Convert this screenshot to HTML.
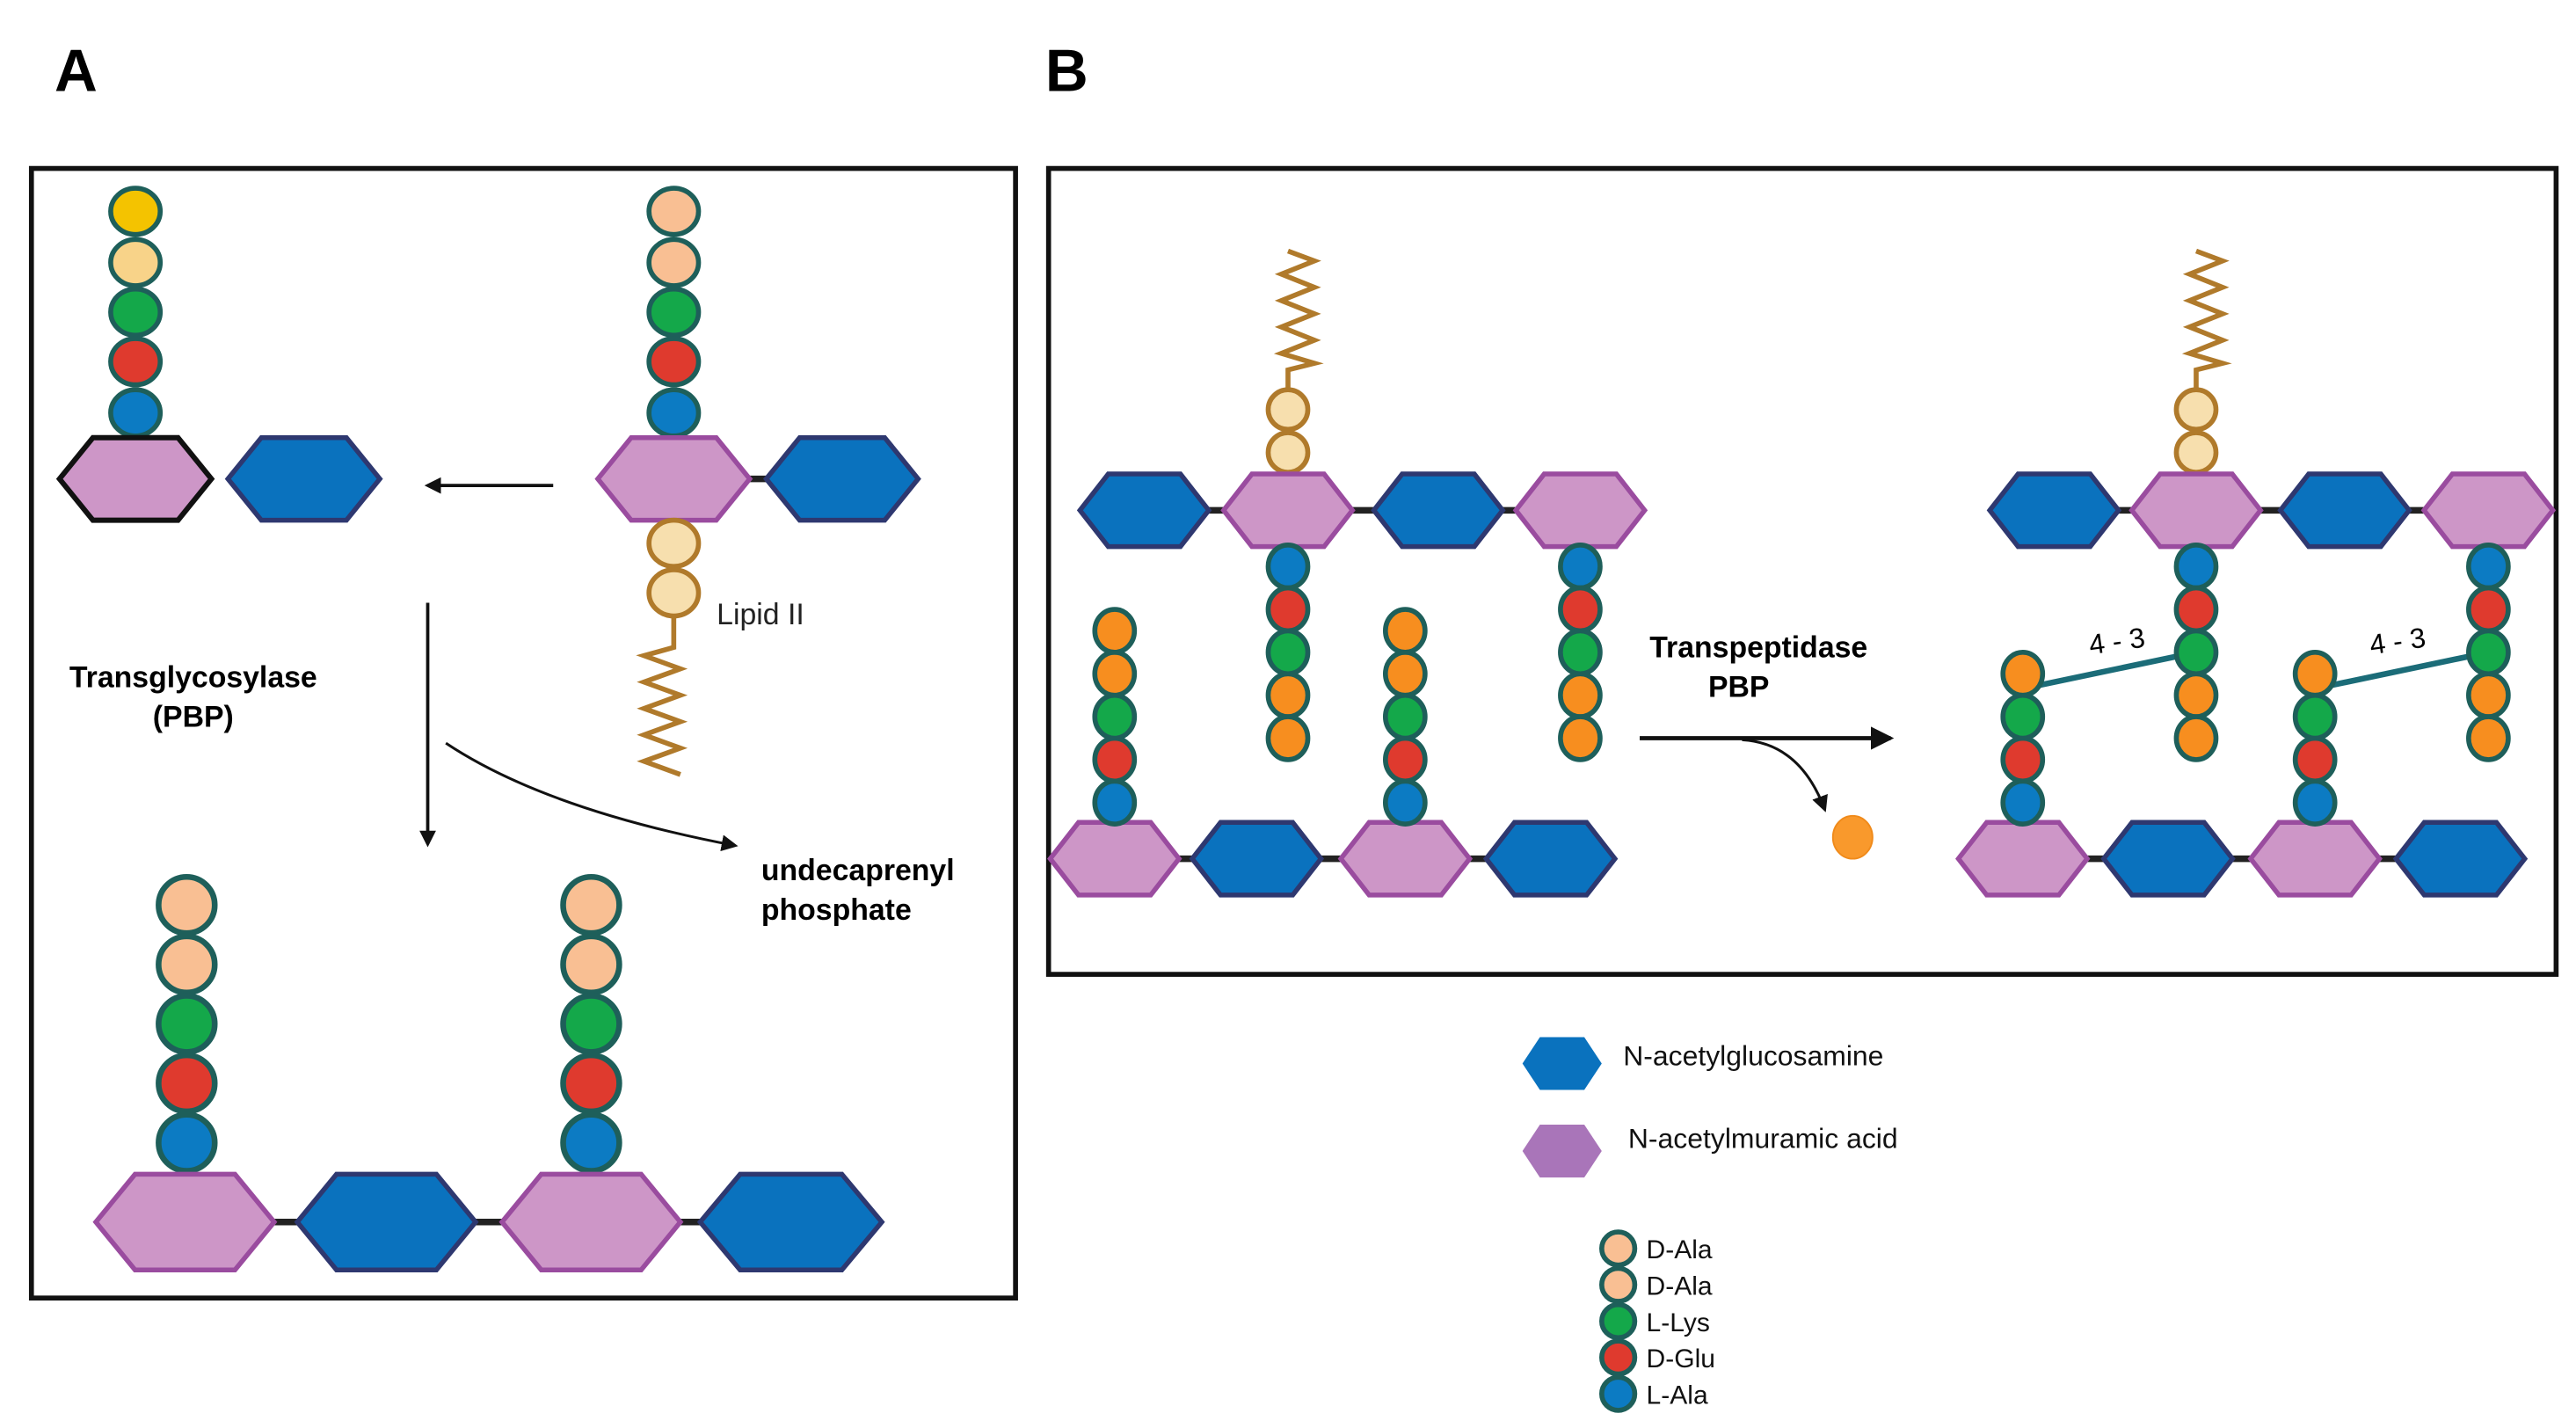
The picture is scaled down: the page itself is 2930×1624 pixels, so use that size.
<!DOCTYPE html>
<html><head><meta charset="utf-8"><style>html,body{margin:0;padding:0;background:#fff}svg{display:block}</style></head>
<body>
<svg width="2930" height="1624" viewBox="0 0 1560 864.7" xmlns="http://www.w3.org/2000/svg" font-family="'Liberation Sans', sans-serif">
<defs>
<polygon id="hx" points="-1,0 -0.56,-1 0.56,-1 1,0 0.56,1 -0.56,1" vector-effect="non-scaling-stroke"/>
<marker id="ar" markerWidth="10" markerHeight="10" refX="8" refY="5" orient="auto" markerUnits="userSpaceOnUse"><path d="M0,0 L10,5 L0,10 Z" fill="#111"/></marker>
<marker id="ar2" markerWidth="14" markerHeight="14" refX="12" refY="7" orient="auto" markerUnits="userSpaceOnUse"><path d="M0,0 L14,7 L0,14 Z" fill="#111"/></marker>
</defs>
<style>
.pk{fill:#cd96c7;stroke:#9a4c9f;stroke-width:5.5}
.bl{fill:#0a72be;stroke:#2e3870;stroke-width:5.5}
.lk{stroke:#222;stroke-width:4}
.c{stroke:#1e5f5a;stroke-width:3}
.y{fill:#f4c300}.pl{fill:#f8d389}.pe{fill:#f9bf93}.g{fill:#14a84a}.r{fill:#df3a2e}.b{fill:#0c7bc3}.o{fill:#f78e1f}
.lp{fill:#f7dfae;stroke:#b07a2b;stroke-width:3}
.zz{fill:none;stroke:#b07a2b;stroke-width:3}
</style>
<rect width="1560" height="864.7" fill="#fff"/>
<text x="33" y="55" font-size="36" font-weight="bold">A</text>
<text x="633" y="55" font-size="36" font-weight="bold">B</text>
<rect x="19" y="102" width="596" height="684" fill="none" stroke="#111" stroke-width="3"/>
<rect x="635" y="102" width="913" height="488" fill="none" stroke="#111" stroke-width="3"/>

<g class="c">
<ellipse cx="82" cy="128" rx="15" ry="14" class="y"/>
<ellipse cx="82" cy="159" rx="15" ry="14" class="pl"/>
<ellipse cx="82" cy="189" rx="15" ry="14" class="g"/>
<ellipse cx="82" cy="219" rx="15" ry="14" class="r"/>
<ellipse cx="82" cy="250" rx="15" ry="14" class="b"/>
</g>
<use href="#hx" transform="translate(82,290) scale(46,25)" style="fill:#cd96c7;stroke:#111;stroke-width:6"/>
<use href="#hx" transform="translate(184,290) scale(46,25)" class="bl"/>
<line x1="335" y1="294" x2="259" y2="294" stroke="#111" stroke-width="2" marker-end="url(#ar)"/>

<line x1="440" y1="290" x2="480" y2="290" class="lk"/>
<g class="c">
<ellipse cx="408" cy="128" rx="15" ry="14" class="pe"/>
<ellipse cx="408" cy="159" rx="15" ry="14" class="pe"/>
<ellipse cx="408" cy="189" rx="15" ry="14" class="g"/>
<ellipse cx="408" cy="219" rx="15" ry="14" class="r"/>
<ellipse cx="408" cy="250" rx="15" ry="14" class="b"/>
</g>
<use href="#hx" transform="translate(408,290) scale(46,25)" class="pk"/>
<use href="#hx" transform="translate(510,290) scale(46,25)" class="bl"/>
<ellipse cx="408" cy="329" rx="15" ry="14" class="lp"/>
<ellipse cx="408" cy="359" rx="15" ry="14" class="lp"/>
<polyline class="zz" points="408,373 408,392 390,397 412,405 390,413 412,421 390,429 412,437 390,445 412,453 390,461 412,469"/>
<text x="434" y="378" font-size="18" fill="#222">Lipid II</text>
<text x="117" y="416" font-size="18" font-weight="bold" text-anchor="middle">Transglycosylase</text>
<text x="117" y="440" font-size="18" font-weight="bold" text-anchor="middle">(PBP)</text>
<line x1="259" y1="365" x2="259" y2="511" stroke="#111" stroke-width="2" marker-end="url(#ar)"/>
<path d="M270,450 Q330,490 445,512" fill="none" stroke="#111" stroke-width="1.6" marker-end="url(#ar)"/>
<text x="461" y="533" font-size="18" font-weight="bold">undecaprenyl</text>
<text x="461" y="557" font-size="18" font-weight="bold">phosphate</text>

<line x1="150" y1="740" x2="450" y2="740" class="lk"/>
<g class="c" style="stroke-width:3.5">
<ellipse cx="113" cy="548" rx="17" ry="17" class="pe"/>
<ellipse cx="113" cy="584" rx="17" ry="17" class="pe"/>
<ellipse cx="113" cy="620" rx="17" ry="17" class="g"/>
<ellipse cx="113" cy="656" rx="17" ry="17" class="r"/>
<ellipse cx="113" cy="692" rx="17" ry="17" class="b"/>
<ellipse cx="358" cy="548" rx="17" ry="17" class="pe"/>
<ellipse cx="358" cy="584" rx="17" ry="17" class="pe"/>
<ellipse cx="358" cy="620" rx="17" ry="17" class="g"/>
<ellipse cx="358" cy="656" rx="17" ry="17" class="r"/>
<ellipse cx="358" cy="692" rx="17" ry="17" class="b"/>
</g>
<use href="#hx" transform="translate(112,740) scale(54,29)" class="pk"/>
<use href="#hx" transform="translate(234,740) scale(54,29)" class="bl"/>
<use href="#hx" transform="translate(358,740) scale(54,29)" class="pk"/>
<use href="#hx" transform="translate(479,740) scale(55,29)" class="bl"/>

<line x1="700" y1="309" x2="960" y2="309" class="lk"/>
<line x1="680" y1="520" x2="940" y2="520" class="lk"/>
<polyline class="zz" points="780,152 796,158 776,166 796,174 776,182 796,190 776,198 796,206 776,214 796,220 780,224 780,237"/>
<ellipse cx="780" cy="248" rx="12" ry="12" class="lp"/>
<ellipse cx="780" cy="274" rx="12" ry="12" class="lp"/>
<use href="#hx" transform="translate(693,309) scale(39,22)" class="bl"/>
<use href="#hx" transform="translate(780,309) scale(39,22)" class="pk"/>
<use href="#hx" transform="translate(871,309) scale(39,22)" class="bl"/>
<use href="#hx" transform="translate(957,309) scale(39,22)" class="pk"/>
<use href="#hx" transform="translate(675,520) scale(39,22)" class="pk"/>
<use href="#hx" transform="translate(761,520) scale(39,22)" class="bl"/>
<use href="#hx" transform="translate(851,520) scale(39,22)" class="pk"/>
<use href="#hx" transform="translate(939,520) scale(39,22)" class="bl"/>
<g class="c">
<ellipse cx="780" cy="343" rx="12" ry="13" class="b"/><ellipse cx="780" cy="369" rx="12" ry="13" class="r"/><ellipse cx="780" cy="395" rx="12" ry="13" class="g"/><ellipse cx="780" cy="421" rx="12" ry="13" class="o"/><ellipse cx="780" cy="447" rx="12" ry="13" class="o"/>
<ellipse cx="957" cy="343" rx="12" ry="13" class="b"/><ellipse cx="957" cy="369" rx="12" ry="13" class="r"/><ellipse cx="957" cy="395" rx="12" ry="13" class="g"/><ellipse cx="957" cy="421" rx="12" ry="13" class="o"/><ellipse cx="957" cy="447" rx="12" ry="13" class="o"/>
<ellipse cx="675" cy="486" rx="12" ry="13" class="b"/><ellipse cx="675" cy="460" rx="12" ry="13" class="r"/><ellipse cx="675" cy="434" rx="12" ry="13" class="g"/><ellipse cx="675" cy="408" rx="12" ry="13" class="o"/><ellipse cx="675" cy="382" rx="12" ry="13" class="o"/>
<ellipse cx="851" cy="486" rx="12" ry="13" class="b"/><ellipse cx="851" cy="460" rx="12" ry="13" class="r"/><ellipse cx="851" cy="434" rx="12" ry="13" class="g"/><ellipse cx="851" cy="408" rx="12" ry="13" class="o"/><ellipse cx="851" cy="382" rx="12" ry="13" class="o"/>
</g>

<text x="1065" y="398" font-size="18" font-weight="bold" text-anchor="middle">Transpeptidase</text>
<text x="1053" y="422" font-size="18" font-weight="bold" text-anchor="middle">PBP</text>
<line x1="993" y1="447" x2="1145" y2="447" stroke="#111" stroke-width="2.5" marker-end="url(#ar2)"/>
<path d="M1055,448 Q1090,450 1105,490" fill="none" stroke="#111" stroke-width="1.6" marker-end="url(#ar)"/>
<ellipse cx="1122" cy="507" rx="12" ry="13" fill="#f9992c" stroke="#f08a1a" stroke-width="1"/>

<line x1="1250" y1="309" x2="1510" y2="309" class="lk"/>
<line x1="1230" y1="520" x2="1490" y2="520" class="lk"/>
<polyline class="zz" points="1330,152 1346,158 1326,166 1346,174 1326,182 1346,190 1326,198 1346,206 1326,214 1346,220 1330,224 1330,237"/>
<ellipse cx="1330" cy="248" rx="12" ry="12" class="lp"/>
<ellipse cx="1330" cy="274" rx="12" ry="12" class="lp"/>
<use href="#hx" transform="translate(1244,309) scale(39,22)" class="bl"/>
<use href="#hx" transform="translate(1330,309) scale(39,22)" class="pk"/>
<use href="#hx" transform="translate(1420,309) scale(39,22)" class="bl"/>
<use href="#hx" transform="translate(1507,309) scale(39,22)" class="pk"/>
<use href="#hx" transform="translate(1225,520) scale(39,22)" class="pk"/>
<use href="#hx" transform="translate(1313,520) scale(39,22)" class="bl"/>
<use href="#hx" transform="translate(1402,520) scale(39,22)" class="pk"/>
<use href="#hx" transform="translate(1490,520) scale(39,22)" class="bl"/>
<line x1="1225" y1="417" x2="1330" y2="395" stroke="#1b6c78" stroke-width="3.5"/>
<line x1="1402" y1="417" x2="1507" y2="395" stroke="#1b6c78" stroke-width="3.5"/>
<g class="c">
<ellipse cx="1330" cy="343" rx="12" ry="13" class="b"/><ellipse cx="1330" cy="369" rx="12" ry="13" class="r"/><ellipse cx="1330" cy="395" rx="12" ry="13" class="g"/><ellipse cx="1330" cy="421" rx="12" ry="13" class="o"/><ellipse cx="1330" cy="447" rx="12" ry="13" class="o"/>
<ellipse cx="1507" cy="343" rx="12" ry="13" class="b"/><ellipse cx="1507" cy="369" rx="12" ry="13" class="r"/><ellipse cx="1507" cy="395" rx="12" ry="13" class="g"/><ellipse cx="1507" cy="421" rx="12" ry="13" class="o"/><ellipse cx="1507" cy="447" rx="12" ry="13" class="o"/>
<ellipse cx="1225" cy="486" rx="12" ry="13" class="b"/><ellipse cx="1225" cy="460" rx="12" ry="13" class="r"/><ellipse cx="1225" cy="434" rx="12" ry="13" class="g"/><ellipse cx="1225" cy="408" rx="12" ry="13" class="o"/>
<ellipse cx="1402" cy="486" rx="12" ry="13" class="b"/><ellipse cx="1402" cy="460" rx="12" ry="13" class="r"/><ellipse cx="1402" cy="434" rx="12" ry="13" class="g"/><ellipse cx="1402" cy="408" rx="12" ry="13" class="o"/>
</g>
<text x="1282" y="394" font-size="17" text-anchor="middle" transform="rotate(-8 1282 388)">4 - 3</text>
<text x="1452" y="394" font-size="17" text-anchor="middle" transform="rotate(-8 1452 388)">4 - 3</text>

<use href="#hx" transform="translate(946,644) scale(24,16)" fill="#0a72be" stroke="none"/>
<text x="983" y="645" font-size="17" fill="#111">N-acetylglucosamine</text>
<use href="#hx" transform="translate(946,697) scale(24,16)" fill="#a975b9" stroke="none"/>
<text x="986" y="695" font-size="17" fill="#111">N-acetylmuramic  acid</text>
<g class="c">
<circle cx="980" cy="756" r="10" class="pe"/>
<circle cx="980" cy="778" r="10" class="pe"/>
<circle cx="980" cy="800" r="10" class="g"/>
<circle cx="980" cy="822" r="10" class="r"/>
<circle cx="980" cy="844" r="10" class="b"/>
</g>
<g font-size="16" fill="#111">
<text x="997" y="762">D-Ala</text>
<text x="997" y="784">D-Ala</text>
<text x="997" y="806">L-Lys</text>
<text x="997" y="828">D-Glu</text>
<text x="997" y="850">L-Ala</text>
</g>
</svg>
</body></html>
